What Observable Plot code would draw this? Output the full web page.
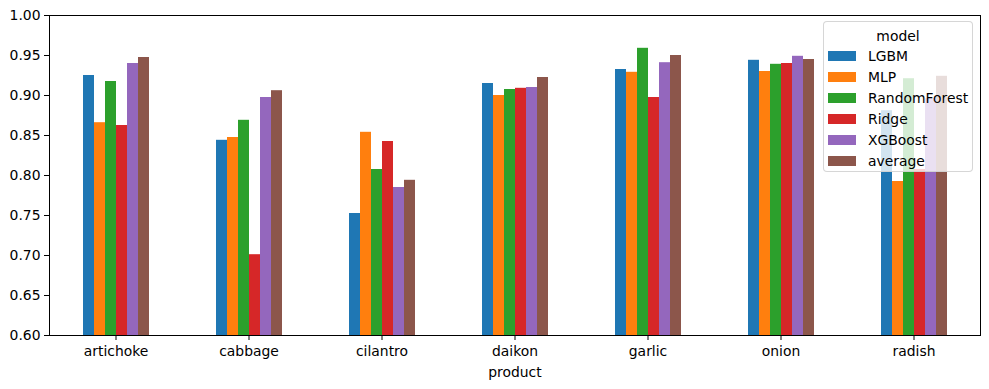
<!DOCTYPE html>
<html><head><meta charset="utf-8">
<script src="https://cdn.jsdelivr.net/npm/d3@7"></script>
<script src="https://cdn.jsdelivr.net/npm/@observablehq/plot@0.6"></script>
<style>
body{margin:0;background:#fff;font-family:"DejaVu Sans",sans-serif;}
#wrap{position:relative;width:989px;height:389px;}
.legend{position:absolute;left:823px;top:21px;width:150px;height:151px;background:rgba(255,255,255,0.8);border:1px solid rgba(204,204,204,0.8);border-radius:4px;box-sizing:border-box;font-size:13.9px;color:#000;}
.legend .title{position:absolute;left:0;width:100%;text-align:center;top:5px;line-height:18px;}
.legend .row{position:absolute;left:4px;height:18px;line-height:18px;}
.legend .sw{position:absolute;left:0;top:4px;width:28px;height:10px;}
.legend .lab{position:absolute;left:40px;top:0;white-space:nowrap;}
</style></head><body><div id="wrap"></div>
<script>
const products = ["artichoke", "cabbage", "cilantro", "daikon", "garlic", "onion", "radish"];
const models = ["LGBM", "MLP", "RandomForest", "Ridge", "XGBoost", "average"];
const LGBM         = [0.925, 0.844, 0.7525, 0.915, 0.9325, 0.944, 0.881];
const MLP          = [0.866, 0.8475, 0.854, 0.900, 0.929, 0.930, 0.7925];
const RandomForest = [0.9175, 0.869, 0.8075, 0.9075, 0.959, 0.939, 0.921];
const Ridge        = [0.8625, 0.701, 0.8425, 0.909, 0.8975, 0.940, 0.8075];
const XGBoost      = [0.940, 0.8975, 0.785, 0.910, 0.941, 0.949, 0.896];
const average      = [0.9475, 0.906, 0.794, 0.9225, 0.950, 0.945, 0.924];
const yTicks = [0.60, 0.65, 0.70, 0.75, 0.80, 0.85, 0.90, 0.95, 1.00];
const colors = ["#1f77b4", "#ff7f0e", "#2ca02c", "#d62728", "#9467bd", "#8c564b"];

const series = {LGBM, MLP, RandomForest, Ridge, XGBoost, average};
const data = [];
products.forEach((p, i) => models.forEach(m => data.push({product: p, model: m, value: series[m][i]})));

const chart = Plot.plot({
  width: 989, height: 389,
  marginLeft: 48, marginRight: 9, marginTop: 15, marginBottom: 54,
  style: {fontFamily: "DejaVu Sans", fontSize: "13.9px", color: "#000", background: "white", overflow: "visible"},
  fx: {domain: products, padding: 0},
  x: {domain: models, paddingInner: 0, paddingOuter: 3, axis: null},
  y: {domain: [0.6, 1.0]},
  color: {domain: models, range: colors},
  marks: [
    Plot.barY(data, {fx: "product", x: "model", y1: 0.6, y2: "value", fill: "model"}),
    Plot.axisY({ticks: yTicks, tickFormat: d3.format(".2f"), tickSize: 5, tickPadding: 4, label: null, stroke: "#000"}),
    Plot.axisFx({anchor: "bottom", tickSize: 5, tickPadding: 6, label: "product", labelAnchor: "center", labelOffset: 41, stroke: "#000"}),
    Plot.frame({facet: "super", stroke: "#000", strokeWidth: 1})
  ]
});
document.getElementById("wrap").appendChild(chart);

const lg = document.createElement("div");
lg.className = "legend";
lg.innerHTML = `<div class="title">model</div>` + models.map((m, i) =>
  `<div class="row" style="top:${25 + 21 * i}px"><div class="sw" style="background:${colors[i]}"></div><div class="lab">${m}</div></div>`).join("");
document.getElementById("wrap").appendChild(lg);
</script>
</body></html>
